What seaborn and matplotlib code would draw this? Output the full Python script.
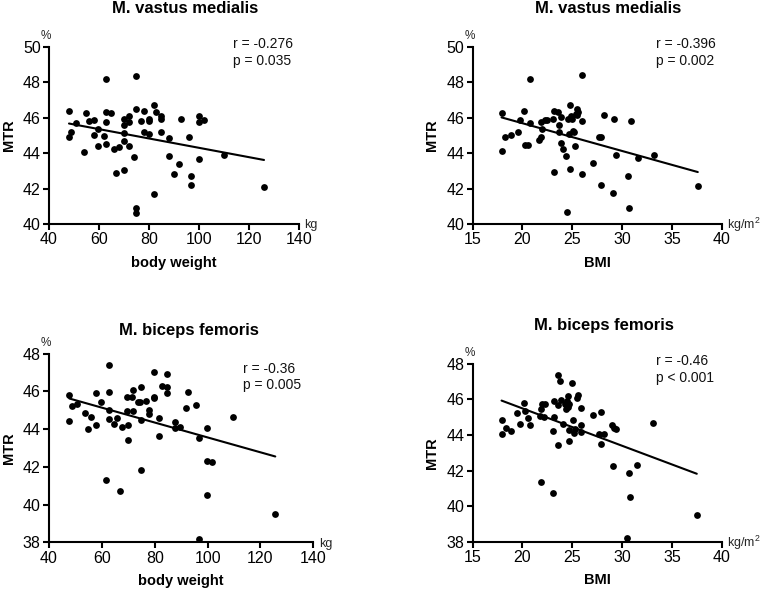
import matplotlib
matplotlib.use("Agg")
import matplotlib.pyplot as plt
import seaborn as sns
import pandas as pd

# M. vastus medialis vs body weight
vm_weight = [48.0, 48.0, 48.8, 50.9, 53.9, 54.8, 55.9, 57.9, 57.9, 59.8, 59.8, 61.9, 63.0, 63.0, 62.8,
             63.0, 65.0, 65.9, 66.8, 67.9, 69.9, 69.9, 69.9, 69.9, 69.9, 71.8, 71.8, 71.8, 73.9, 74.8,
             74.8, 74.8, 74.8, 76.8, 77.9, 77.9, 79.9, 79.9, 79.9, 81.9, 81.9, 82.9, 84.9, 84.9, 84.9,
             87.9, 87.9, 89.9, 91.9, 92.9, 95.9, 96.9, 96.9, 99.9, 99.9, 99.9, 101.9, 110.0, 126.0]
vm_weight_mtr = [46.39, 44.89, 45.19, 45.68, 44.08, 46.28, 45.81, 45.85, 45.02, 45.36, 44.42, 44.94, 48.16,
                 46.33, 45.77, 44.51, 46.28, 44.21, 42.89, 44.36, 45.90, 45.58, 45.15, 44.70, 43.06, 46.09,
                 45.73, 44.42, 43.80, 48.36, 46.48, 40.88, 40.64, 45.83, 46.37, 45.17, 45.92, 45.79, 45.06,
                 46.71, 41.69, 46.32, 46.07, 45.92, 45.21, 44.87, 43.85, 42.80, 43.40, 45.94, 44.89, 42.71,
                 42.18, 46.11, 45.77, 43.67, 45.88, 43.87, 42.11]

# M. vastus medialis vs BMI
vm_bmi = [17.9, 17.9, 18.2, 18.8, 19.6, 19.8, 20.2, 20.3, 20.6, 20.8, 20.8, 21.7, 21.9, 22.0, 21.9,
          22.3, 22.5, 23.1, 23.2, 23.2, 23.6, 23.7, 23.7, 23.9, 23.9, 24.1, 24.4, 24.5, 24.6, 24.7,
          24.8, 24.8, 24.9, 25.0, 25.1, 25.2, 25.3, 25.4, 25.5, 25.6, 25.5, 26.0, 26.0, 26.0, 27.1,
          27.7, 27.9, 27.9, 28.2, 29.1, 29.2, 29.4, 30.6, 30.7, 30.9, 31.6, 33.2, 37.6]
vm_bmi_mtr = [46.26, 44.12, 44.89, 45.02, 45.19, 45.85, 46.39, 44.44, 44.44, 45.68, 48.16, 44.74, 44.89,
              45.36, 45.77, 45.85, 45.85, 45.92, 42.91, 46.37, 46.33, 45.60, 45.19, 46.05, 44.55, 44.25,
              43.82, 40.68, 45.94, 45.08, 43.08, 46.73, 46.07, 45.92, 45.25, 45.19, 44.40, 46.22, 46.50,
              46.33, 46.13, 48.38, 45.83, 42.82, 43.44, 44.91, 44.91, 42.22, 46.13, 41.73, 45.90, 43.87,
              42.73, 40.90, 45.81, 43.72, 43.91, 42.14]

# M. biceps femoris vs body weight
bf_weight = [47.7, 47.7, 48.6, 50.6, 53.6, 54.6, 55.8, 57.8, 57.8, 59.7, 61.7, 62.7, 62.7, 62.7, 62.7,
             64.7, 65.7, 66.7, 67.6, 69.5, 69.5, 69.8, 69.8, 71.5, 71.6, 71.6, 73.5, 74.6, 74.7, 74.7,
             74.7, 76.7, 77.7, 77.7, 79.6, 79.6, 79.6, 81.6, 81.6, 82.6, 84.6, 84.6, 84.6, 87.7, 87.7,
             89.6, 91.7, 92.7, 95.6, 96.7, 96.7, 99.6, 99.6, 99.6, 101.7, 109.7, 125.6]
bf_weight_mtr = [45.83, 44.41, 45.21, 45.33, 44.86, 44.01, 44.63, 45.93, 44.20, 45.42, 41.32, 47.38, 45.95,
                 45.00, 44.54, 44.29, 44.61, 40.72, 44.10, 45.70, 44.98, 44.24, 43.41, 45.70, 46.07, 44.98,
                 45.42, 45.46, 46.22, 44.50, 41.82, 45.49, 45.01, 44.82, 47.05, 45.72, 45.65, 44.59, 43.62,
                 46.29, 46.92, 46.22, 45.90, 44.38, 44.08, 44.13, 45.10, 45.99, 45.26, 43.51, 38.19, 44.08,
                 42.29, 40.53, 42.24, 44.66, 39.48]

# M. biceps femoris vs BMI
bf_bmi = [17.9, 17.9, 18.3, 18.8, 19.5, 19.8, 20.2, 20.3, 20.6, 20.8, 21.8, 21.9, 21.9, 22.0, 22.3,
          22.2, 23.1, 23.1, 23.2, 23.2, 23.6, 23.6, 23.6, 23.8, 23.9, 24.1, 24.3, 24.4, 24.5, 24.6,
          24.6, 24.7, 24.7, 24.7, 25.0, 25.1, 25.2, 25.3, 25.5, 25.6, 25.9, 25.9, 25.9, 27.1, 27.7,
          27.9, 27.9, 28.2, 29.0, 29.2, 29.1, 29.4, 30.7, 30.5, 30.8, 31.5, 33.1, 37.5]
bf_bmi_mtr = [44.84, 44.03, 44.40, 44.22, 45.21, 44.63, 45.81, 45.34, 44.96, 44.53, 45.04, 45.43, 41.33,
              45.72, 45.75, 45.00, 44.22, 40.75, 45.92, 45.02, 47.38, 45.70, 43.41, 47.04, 45.96, 44.61,
              45.72, 45.47, 45.92, 45.56, 46.20, 43.67, 44.25, 45.73, 46.93, 44.82, 44.10, 44.35, 46.09,
              46.26, 45.51, 44.57, 44.18, 45.13, 44.07, 45.27, 43.50, 44.07, 44.57, 44.40, 42.25, 44.35,
              41.84, 38.22, 40.54, 42.29, 44.67, 39.50]

stats_text = ["r = -0.276\np = 0.035", "r = -0.396\np = 0.002",
              "r = -0.36\np = 0.005", "r = -0.46\np < 0.001"]
titles = ["M. vastus medialis", "M. vastus medialis", "M. biceps femoris", "M. biceps femoris"]

sns.set_theme(style="ticks")
plt.rcParams['font.family'] = ['Liberation Sans', 'DejaVu Sans']
plt.rcParams['mathtext.fontset'] = 'custom'
plt.rcParams['mathtext.rm'] = 'Liberation Sans'

fig = plt.figure(figsize=(7.62, 5.94), dpi=100)

panels = [
    # axes position, x, y, xlabel, unit, xlim, xticks, ylim, stats y, title pos
    ([0.0643, 0.6229, 0.3281, 0.2985], vm_weight, vm_weight_mtr, "body weight", "kg",
     (40, 140), range(40, 141, 20), (40, 50), 0.967, (0.243, 0.9773)),
    ([0.6203, 0.6229, 0.3268, 0.2985], vm_bmi, vm_bmi_mtr, "BMI", "kg/m$^2$",
     (15, 40), range(15, 41, 5), (40, 50), 0.967, (0.798, 0.9773)),
    ([0.0643, 0.0870, 0.3469, 0.3175], bf_weight, bf_weight_mtr, "body weight", "kg",
     (40, 140), range(40, 141, 20), (38, 48), 0.876, (0.248, 0.4365)),
    ([0.6203, 0.0880, 0.3268, 0.2997], bf_bmi, bf_bmi_mtr, "BMI", "kg/m$^2$",
     (15, 40), range(15, 41, 5), (38, 48), 0.969, (0.793, 0.4439)),
]

for i, (pos, xs, ys, xlab, unit, xlim, xt, ylim, sy, tpos) in enumerate(panels):
    ax = fig.add_axes(pos)
    df = pd.DataFrame({"x": xs, "MTR": ys})
    sns.regplot(data=df, x="x", y="MTR", ax=ax, ci=None,
                scatter_kws=dict(s=24, color="black", alpha=1, linewidths=0, clip_on=False),
                line_kws=dict(color="black", lw=1.5))
    ax.set_xlim(*xlim)
    ax.set_ylim(*ylim)
    ax.set_xticks(list(xt))
    ax.set_yticks(range(ylim[0], ylim[1] + 1, 2))
    sns.despine(ax=ax)
    for s in ["left", "bottom"]:
        ax.spines[s].set_linewidth(1.5)
        ax.spines[s].set_color("black")
    ax.tick_params(direction="out", length=4, width=1.5, color="black",
                   labelsize=11.5, pad=2, labelcolor="black")
    ax.set_xlabel(xlab, fontsize=10.5, fontweight="bold", labelpad=6, color="black")
    ax.set_ylabel("MTR", fontsize=10.5, fontweight="bold", labelpad=5, color="black")
    ax.text(0.735, sy, stats_text[i], transform=ax.transAxes, fontsize=10,
            va="center", ha="left", linespacing=1.25, color="#111111")
    ax.annotate("%", xy=(0, 1), xycoords="axes fraction", xytext=(-2, 8),
                textcoords="offset points", ha="center", va="center", fontsize=8.5)
    ax.annotate(unit, xy=(1, 0), xycoords="axes fraction", xytext=(4, -1),
                textcoords="offset points", ha="left", va="center", fontsize=9)
    fig.text(tpos[0], tpos[1], titles[i], ha="center", va="baseline",
             fontsize=12, fontweight="bold", color="black")

plt.savefig("out.png", dpi=100)
